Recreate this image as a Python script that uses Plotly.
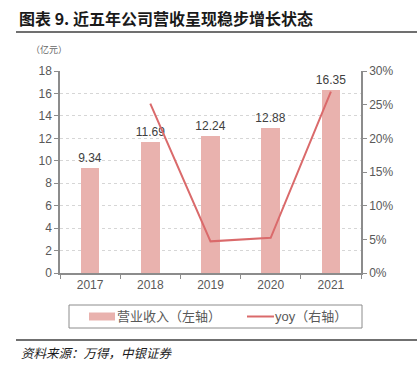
import plotly.graph_objects as go

years = ["2017", "2018", "2019", "2020", "2021"]
revenue = [9.34, 11.69, 12.24, 12.88, 16.35]
yoy_years = ["2018", "2019", "2020", "2021"]
yoy = [25.16, 4.70, 5.23, 26.94]
left_ticks = [0, 2, 4, 6, 8, 10, 12, 14, 16, 18]
right_ticks = [0, 5, 10, 15, 20, 25, 30]
right_tick_labels = ["0%", "5%", "10%", "15%", "20%", "25%", "30%"]
bar_name = "营业收入（左轴）"
line_name = "yoy（右轴）"

FONT = "Liberation Sans, Arial, Noto Sans CJK SC, sans-serif"
CJK = "Noto Sans CJK SC, sans-serif"
BAR_C = "#E9B2AE"
LINE_C = "#DA6A6B"
AX_C = "#8C8C8C"
TXT_C = "#595959"

# plot area in pixels
L, R, T, B = 60, 361, 71, 273
W, H = 417, 376
PW, PH = R - L, B - T


def px(x):
    return (x - L) / PW


def py(y):
    return (B - y) / PH


fig = go.Figure()
fig.add_trace(go.Bar(
    x=years, y=revenue, name=bar_name,
    marker=dict(color=BAR_C, line=dict(width=0)),
    width=0.31,
    text=[f"{v:.2f}" for v in revenue], textposition="outside",
    constraintext="none",
    textfont=dict(size=12, color="#404040", family=FONT),
    cliponaxis=False, showlegend=False, hoverinfo="skip",
))
fig.add_trace(go.Scatter(
    x=yoy_years, y=yoy, name=line_name, yaxis="y2", mode="lines",
    line=dict(color=LINE_C, width=2), showlegend=False, hoverinfo="skip",
))

fig.update_layout(
    width=W, height=H,
    margin=dict(l=L, r=W - R, t=T, b=H - B),
    paper_bgcolor="white", plot_bgcolor="white",
    font=dict(family=FONT, size=12, color=TXT_C),
    showlegend=False,
    xaxis=dict(
        type="category", showline=True, linecolor=AX_C, linewidth=1.5,
        ticks="outside", ticklen=4, tickcolor=AX_C, tickson="boundaries",
        showgrid=False, tickfont=dict(size=12, color=TXT_C),
    ),
    yaxis=dict(
        range=[0, 18], tickvals=left_ticks, showline=True, linecolor=AX_C,
        linewidth=1.5, ticks="outside", ticklen=4, tickcolor=AX_C,
        showgrid=True, gridcolor="#D6D6D6", griddash="dot", gridwidth=1,
        zeroline=False, tickfont=dict(size=12, color=TXT_C),
    ),
    yaxis2=dict(
        range=[0, 30], tickvals=right_ticks, ticktext=right_tick_labels,
        overlaying="y", side="right", showline=True, linecolor=AX_C,
        linewidth=1.5, ticks="outside", ticklen=4, tickcolor=AX_C,
        showgrid=False, zeroline=False, tickfont=dict(size=12, color=TXT_C),
    ),
    bargap=0,
)

# title, unit, source
fig.add_annotation(
    text="<b>图表 9. 近五年公司营收呈现稳步增长状态</b>", xref="paper", yref="paper",
    x=px(17), y=py(18), xanchor="left", yanchor="middle",
    showarrow=False, font=dict(size=16, color="#1a1a1a", family=CJK),
)
fig.add_annotation(
    text="（亿元）", xref="paper", yref="paper",
    x=px(29), y=py(50), xanchor="left", yanchor="middle",
    showarrow=False, font=dict(size=9, color="#666666", family=CJK),
)
fig.add_annotation(
    text="<i>资料来源：万得，中银证券</i>", xref="paper", yref="paper",
    x=px(19), y=py(352), xanchor="left", yanchor="middle",
    showarrow=False, font=dict(size=12.5, color="#1a1a1a", family=CJK),
)
fig.add_shape(type="line", xref="paper", yref="paper",
              x0=px(16), x1=px(417), y0=py(32), y1=py(32),
              line=dict(color="#404040", width=1.5))
fig.add_shape(type="line", xref="paper", yref="paper",
              x0=px(16), x1=px(417), y0=py(340), y1=py(340),
              line=dict(color="#404040", width=1.5))

# legend box
fig.add_shape(type="rect", xref="paper", yref="paper",
              x0=px(69), x1=px(362), y0=py(305), y1=py(328),
              line=dict(color="#8C8C8C", width=1), fillcolor="rgba(0,0,0,0)")
fig.add_shape(type="rect", xref="paper", yref="paper",
              x0=px(89), x1=px(115), y0=py(312.5), y1=py(320.5),
              line=dict(width=0), fillcolor=BAR_C)
fig.add_annotation(
    text=bar_name, xref="paper", yref="paper",
    x=px(115), y=py(316.5), xanchor="left", yanchor="middle",
    showarrow=False, font=dict(size=13, color=TXT_C, family=FONT),
)
fig.add_shape(type="line", xref="paper", yref="paper",
              x0=px(247), x1=px(274), y0=py(316.5), y1=py(316.5),
              line=dict(color=LINE_C, width=2))
fig.add_annotation(
    text=line_name, xref="paper", yref="paper",
    x=px(273), y=py(316.5), xanchor="left", yanchor="middle",
    showarrow=False, font=dict(size=13, color=TXT_C, family=FONT),
)

fig.write_html("out.html", config={"displayModeBar": False},
               post_script="document.body.style.margin='0';")
